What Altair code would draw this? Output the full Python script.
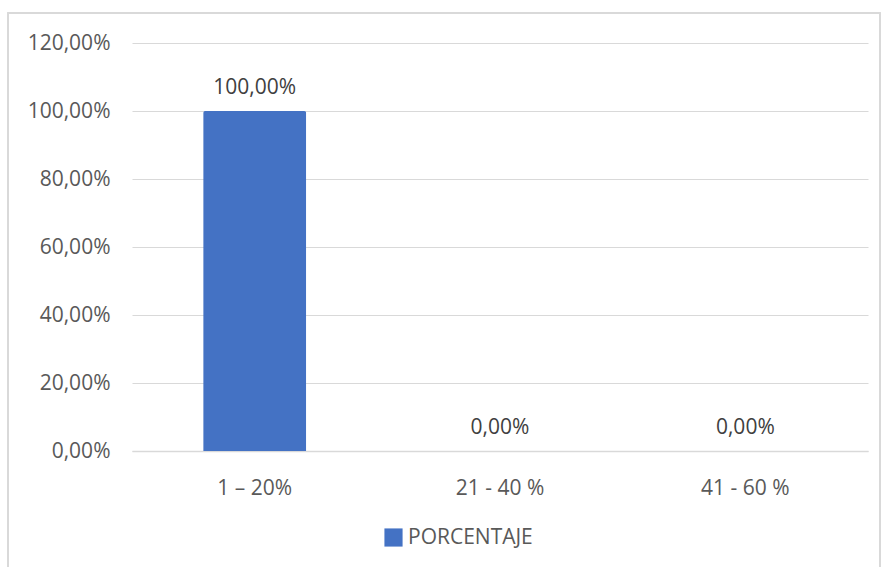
import altair as alt
import pandas as pd

categories = ["1 – 20%", "21 - 40 %", "41 - 60 %"]
porcentaje = [1.0, 0.0, 0.0]
y_ticks = [0, 0.2, 0.4, 0.6, 0.8, 1.0, 1.2]
series_name = "PORCENTAJE"

df = pd.DataFrame({"cat": categories, "v": porcentaje, "serie": [series_name] * 3})

FONT = "Open Sans"
FS = 21
W, H = 736, 408
PL, PT = 132, 43

x = alt.X("cat:N", sort=categories, title=None,
          scale=alt.Scale(paddingInner=0.58, paddingOuter=0.29),
          axis=alt.Axis(labelAngle=0, labelFontSize=FS, labelColor="#595959", labelFont=FONT,
                        labelPadding=26, ticks=False, domainColor="#D9D9D9", domainWidth=1.5,
                        grid=False))
y = alt.Y("v:Q", title=None,
          scale=alt.Scale(domain=[0, 1.2], nice=False),
          axis=alt.Axis(values=y_ticks, format=".2%", labelExpr="replace(datum.label, '.', ',')",
                        labelFontSize=FS, labelColor="#595959", labelFont=FONT, labelPadding=22,
                        ticks=False, domain=False, gridColor="#D9D9D9", gridWidth=1.2))

bars = alt.Chart(df).mark_bar(cornerRadiusTopLeft=2, cornerRadiusTopRight=2).encode(
    x=x, y=y,
    color=alt.Color("serie:N", scale=alt.Scale(range=["#4472C4"]), title=None,
                    legend=alt.Legend(orient="none", legendX=251, legendY=484, symbolType="square",
                                      symbolSize=330, labelFontSize=FS, labelColor="#595959",
                                      labelFont=FONT, symbolStrokeWidth=0, labelOffset=4))
)

labels = alt.Chart(df).transform_calculate(
    lab="replace(format(datum.v, '.2%'), '.', ',')"
).mark_text(fontSize=FS, font=FONT, color="#404040", baseline="alphabetic", dy=-17).encode(
    x=alt.X("cat:N", sort=categories), y=alt.Y("v:Q"), text="lab:N"
)

frame = alt.Chart(df).mark_rect(fill=None, stroke="#D9D9D9", strokeWidth=1.5).encode(
    x=alt.value(8 - PL), x2=alt.value(880 - PL), y=alt.value(13 - PT), y2=alt.value(600 - PT)
)

chart = alt.layer(frame, bars, labels).properties(
    width=W, height=H,
    autosize=alt.AutoSizeParams(type="none"),
    padding={"left": PL, "top": PT, "right": 883 - PL - W, "bottom": 567 - PT - H},
    background="white",
).configure_view(stroke=None)

chart.save("out.html", embed_options={"renderer": "svg", "actions": False})
